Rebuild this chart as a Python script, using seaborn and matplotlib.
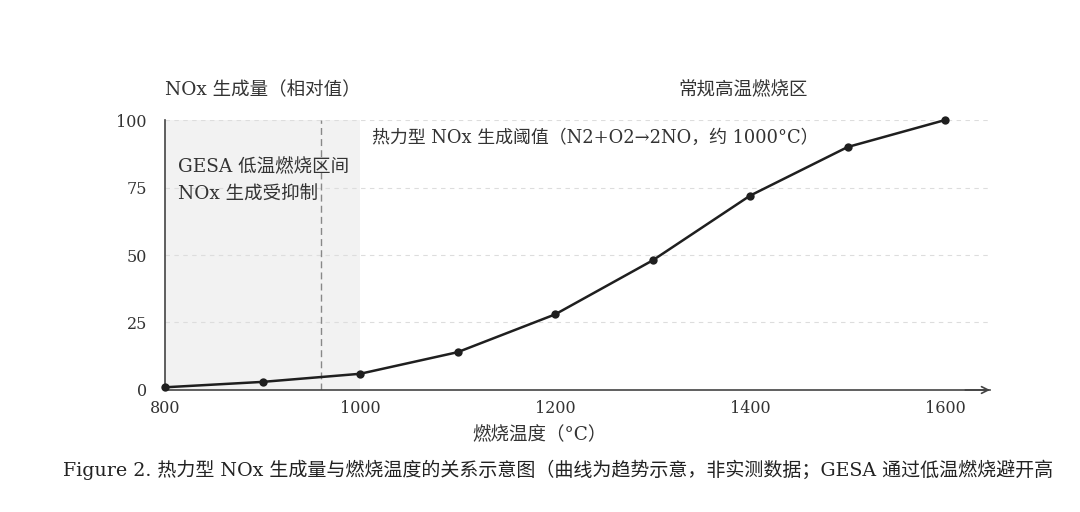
import matplotlib
matplotlib.use("Agg")
import matplotlib.pyplot as plt
import seaborn as sns
import pandas as pd

temps = [800, 900, 1000, 1100, 1200, 1300, 1400, 1500, 1600]
nox = [1, 3, 6, 14, 28, 48, 72, 90, 100]
x_ticks = [800, 1000, 1200, 1400, 1600]
y_ticks = [0, 25, 50, 75, 100]
low_zone = (800, 1000)
threshold_line = 960

sns.set_theme(style="white")
plt.rcParams['font.family'] = ['DejaVu Serif', 'Noto Sans CJK SC', 'DejaVu Sans']
plt.rcParams['axes.unicode_minus'] = False

TXT = '#333333'
FS = 13.3
fig = plt.figure(figsize=(10.8, 5.12), dpi=100)
ax = fig.add_axes([0.1528, 0.2383, 0.7639, 0.5273])

df = pd.DataFrame({'T': temps, 'NOx': nox})
ax.axvspan(low_zone[0], low_zone[1], color='#f2f2f2', zorder=0, lw=0)
for yv in y_ticks[1:]:
    ax.axhline(yv, color='#dddddd', ls=(0, (4, 4)), lw=0.8, zorder=0.5)
ax.axvline(threshold_line, color='#888888', ls=(0, (5, 3)), lw=1.0, zorder=1)

sns.lineplot(data=df, x='T', y='NOx', ax=ax, color='#1f1f1f', lw=1.8,
             marker='o', markersize=6, markeredgewidth=0, clip_on=False, zorder=3)

ax.set_xlim(800, 1646)
ax.set_ylim(0, 100)
ax.set_xticks(x_ticks)
ax.set_yticks(y_ticks)
ax.tick_params(axis='x', direction='inout', length=6, width=1, color='#444444',
               labelsize=11.5, labelcolor=TXT, pad=4)
ax.tick_params(axis='y', direction='out', length=5, width=1, color='#444444',
               labelsize=11.5, labelcolor=TXT, pad=8)
ax.xaxis.set_minor_locator(matplotlib.ticker.NullLocator())
for s in ['top', 'right']:
    ax.spines[s].set_visible(False)
for s in ['left', 'bottom']:
    ax.spines[s].set_color('#444444')
    ax.spines[s].set_linewidth(1.2)
ax.annotate('', xy=(1.0, 0), xycoords='axes fraction', xytext=(0.97, 0),
            arrowprops=dict(arrowstyle='->', color='#444444', lw=1.2,
                            mutation_scale=12, shrinkA=0, shrinkB=0), annotation_clip=False)

ax.set_xlabel('燃烧温度（°C）', fontsize=FS, color=TXT, labelpad=6)
ax.xaxis.set_label_coords(0.454, -0.135)
ax.set_ylabel('')

ax.text(800, 111, 'NOx 生成量（相对值）', fontsize=FS, color=TXT, ha='left', va='center')
ax.text(1393, 111, '常规高温燃烧区', fontsize=FS, color=TXT, ha='center', va='center')
ax.text(1012, 93.5, '热力型 NOx 生成阈值（N2+O2→2NO，约 1000°C）', fontsize=12.9,
        color=TXT, ha='left', va='center')
ax.text(813, 82.5, 'GESA 低温燃烧区间', fontsize=FS, color=TXT, ha='left', va='center')
ax.text(813, 72.5, 'NOx 生成受抑制', fontsize=FS, color=TXT, ha='left', va='center')

fig.text(0.058, 0.082, 'Figure 2. 热力型 NOx 生成量与燃烧温度的关系示意图（曲线为趋势示意，非实测数据；GESA 通过低温燃烧避开高',
         fontsize=13.7, color='#222222', ha='left', va='center')

fig.savefig('out.png', dpi=100, facecolor='white')
